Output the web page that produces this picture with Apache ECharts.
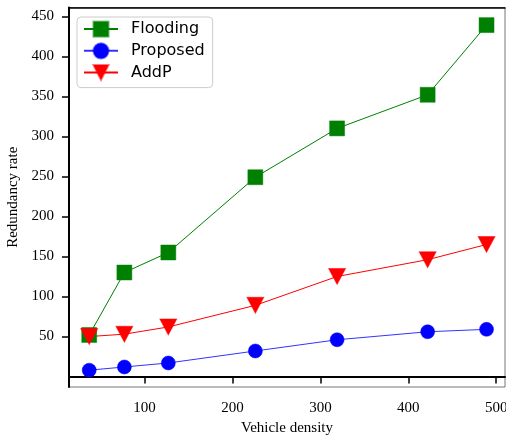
<!DOCTYPE html>
<html>
<head>
<meta charset="utf-8">
<script src="https://cdn.jsdelivr.net/npm/echarts@6/dist/echarts.min.js"></script>
<style>html,body{margin:0;padding:0;background:#fff}#c{width:506px;height:441px}</style>
</head>
<body>
<div id="c"></div>
<script>
const density = [37, 77, 127, 226, 319, 422, 489];
const flooding = [52, 130, 155, 249, 310, 352, 439];
const proposed = [8, 12, 17, 32, 46, 56, 59];
const addp = [50, 53, 62, 89, 125, 146, 165];
const xTicks = [100, 200, 300, 400, 500];
const yTicks = [50, 100, 150, 200, 250, 300, 350, 400, 450];

const pairs = arr => density.map((d, i) => [d, arr[i]]);
const serif = 'Liberation Serif';
const chart = echarts.init(document.getElementById('c'), null, {renderer: 'canvas'});
chart.setOption({
  animation: false,
  backgroundColor: '#fff',
  grid: {left: 69, right: 1, top: 7.5, bottom: 54, containLabel: false, outerBoundsMode: 'none',
         show: true, borderColor: '#777', borderWidth: 1, backgroundColor: 'transparent'},
  legend: {
    left: 77, top: 17, orient: 'vertical',
    itemWidth: 34, itemHeight: 19, itemGap: 4.5,
    padding: [3.5, 8, 6.5, 6],
    backgroundColor: '#fff', borderColor: '#ccc', borderWidth: 1, borderRadius: 4,
    textStyle: {fontFamily: 'DejaVu Sans', fontSize: 16, color: '#000', padding: [0, 0, 0, 8]},
    data: ['Flooding', 'Proposed', 'AddP']
  },
  xAxis: [{
    type: 'value', min: 14, max: 510,
    name: 'Vehicle density', nameLocation: 'middle', nameGap: 33,
    nameTextStyle: {fontFamily: serif, fontSize: 15, color: '#000'},
    axisLine: {show: true, lineStyle: {color: '#000', width: 2}},
    axisTick: {show: true, customValues: xTicks, length: 7, lineStyle: {color: '#000', width: 1.5}},
    axisLabel: {customValues: xTicks, margin: 14, fontFamily: serif, fontSize: 15, color: '#000'},
    splitLine: {show: false}
  }, {
    type: 'value', min: 14, max: 510, position: 'top',
    axisLine: {show: true, onZero: false, lineStyle: {color: '#000', width: 1.5}},
    axisTick: {show: false}, axisLabel: {show: false}, splitLine: {show: false}
  }],
  yAxis: {
    type: 'value', min: -13, max: 461,
    name: 'Redundancy rate', nameLocation: 'middle', nameGap: 45, nameRotate: 90,
    nameTextStyle: {fontFamily: serif, fontSize: 15, color: '#000'},
    axisLine: {show: true, lineStyle: {color: '#000', width: 2}},
    axisTick: {show: true, customValues: yTicks, length: 7, lineStyle: {color: '#000', width: 1.5}},
    axisLabel: {customValues: yTicks, margin: 15, fontFamily: serif, fontSize: 15, color: '#000'},
    splitLine: {show: false}
  },
  series: [
    {
      name: 'Flooding', type: 'line', data: pairs(flooding),
      symbol: 'rect', symbolSize: 15,
      lineStyle: {color: '#008000', width: 1},
      itemStyle: {color: '#008000', borderColor: 'rgba(0,128,0,0.45)', borderWidth: 1}
    },
    {
      name: 'Proposed', type: 'line', data: pairs(proposed),
      symbol: 'circle', symbolSize: 14,
      lineStyle: {color: 'rgba(0,0,255,0.8)', width: 1},
      itemStyle: {color: '#0000ff', borderColor: 'rgba(0,0,255,0.5)', borderWidth: 1}
    },
    {
      name: 'AddP', type: 'line', data: pairs(addp),
      symbol: 'triangle', symbolRotate: 180, symbolSize: [17, 16],
      lineStyle: {color: '#ff0000', width: 1},
      itemStyle: {color: '#ff0000', borderColor: 'rgba(255,0,0,0.5)', borderWidth: 1}
    }
  ]
});
</script>
</body>
</html>
